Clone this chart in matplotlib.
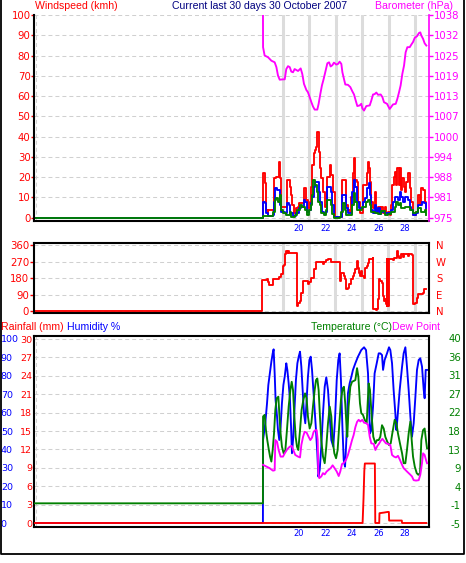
import matplotlib
matplotlib.use("Agg")
import matplotlib.pyplot as plt
from matplotlib.lines import Line2D

# ---------------- data (day of October, value) ----------------
gust = [(0.2, 0), (17.48, 0), (17.49, 21.9), (17.61, 21.9), (17.64, 16.9), (17.74, 3.8), (17.86, 1.6),
        (17.90, 3.8), (18.24, 3.8), (18.32, 19.4), (18.50, 20.2), (18.62, 20.2), (18.67, 27.6), (18.75, 20.2),
        (18.77, 19.4), (18.82, 5.4), (19.25, 5.4), (19.33, 18.6), (19.51, 18.6), (19.56, 15.3), (19.63, 11.2),
        (19.71, 6.3), (19.83, 2.1), (20.01, 4.6), (20.14, 5.4), (20.21, 7.1), (20.46, 7.1), (20.57, 14.5),
        (20.64, 14.5), (20.77, 8.7), (20.89, 4.6), (21.02, 7.9), (21.15, 15.3), (21.22, 26.0), (21.32, 31.7),
        (21.40, 33.4), (21.48, 35.0), (21.60, 42.4), (21.70, 32.6), (21.83, 24.3), (21.90, 19.4), (22.03, 12.8),
        (22.16, 5.4), (22.28, 6.3), (22.36, 20.2), (22.49, 20.2), (22.56, 26.0), (22.66, 21.0), (22.79, 12.8),
        (22.91, 0.5), (23.42, 0.5), (23.50, 18.6), (23.67, 18.6), (23.80, 6.3), (23.92, 3.8), (24.10, 3.0),
        (24.18, 10.4), (24.30, 21.9), (24.38, 29.3), (24.48, 18.6), (24.63, 17.8), (24.68, 7.9), (24.81, 2.1),
        (24.93, 2.1), (25.06, 16.1), (25.24, 16.1), (25.36, 21.9), (25.44, 27.6), (25.52, 24.3), (25.59, 17.8),
        (25.69, 7.9), (25.82, 4.6), (25.94, 12.8), (26.00, 12.8), (26.07, 2.1), (26.20, 5.4), (26.32, 2.1),
        (26.45, 5.4), (26.58, 2.1), (26.70, 5.4), (26.83, 2.1), (26.95, 3.0), (27.08, 1.3), (27.21, 6.3),
        (27.28, 16.1), (27.38, 20.2), (27.46, 22.7), (27.54, 16.1), (27.66, 24.3), (27.79, 16.1), (27.89, 24.3),
        (27.97, 13.7), (28.04, 19.4), (28.14, 15.3), (28.22, 12.8), (28.34, 17.8), (28.47, 21.9), (28.60, 14.5),
        (28.72, 7.9), (28.85, 1.3), (28.98, 1.3), (29.10, 3.0), (29.23, 11.2), (29.35, 6.3), (29.48, 14.5),
        (29.61, 13.7), (29.73, 7.9), (29.86, 3.8)]

wind_avg = [(0.2, 0), (17.48, 0), (17.49, 7.9), (17.61, 7.1), (17.74, 2.1), (17.86, 1.0), (18.24, 1.3),
            (18.32, 7.9), (18.42, 14.5), (18.57, 13.7), (18.67, 13.7), (18.77, 6.3), (18.87, 3.0), (19.13, 2.1),
            (19.33, 7.1), (19.45, 6.3), (19.56, 2.1), (19.76, 1.0), (20.01, 2.1), (20.21, 4.6), (20.39, 5.4),
            (20.57, 8.7), (20.69, 7.9), (20.82, 3.0), (20.97, 3.8), (21.10, 7.1), (21.22, 10.4), (21.32, 15.3),
            (21.45, 17.8), (21.60, 17.8), (21.70, 12.8), (21.83, 7.9), (21.95, 3.0), (22.08, 2.1), (22.23, 3.0),
            (22.36, 15.3), (22.49, 15.3), (22.61, 12.8), (22.71, 6.3), (22.86, 0.5), (23.29, 0.5), (23.50, 11.2),
            (23.67, 11.2), (23.80, 4.6), (23.92, 2.1), (24.10, 2.1), (24.25, 12.8), (24.38, 18.6), (24.48, 15.3),
            (24.61, 7.9), (24.73, 4.6), (24.93, 4.6), (25.06, 7.9), (25.24, 9.5), (25.36, 14.5), (25.49, 16.9),
            (25.59, 11.2), (25.69, 3.8), (25.82, 2.1), (25.94, 6.3), (26.07, 3.0), (26.20, 4.6), (26.32, 1.6),
            (26.45, 3.0), (26.70, 2.1), (26.95, 2.1), (27.21, 3.8), (27.33, 7.9), (27.46, 10.4), (27.59, 10.4),
            (27.71, 8.7), (27.84, 12.8), (27.97, 10.4), (28.09, 7.9), (28.22, 10.4), (28.34, 10.4), (28.47, 8.7),
            (28.60, 5.4), (28.72, 3.8), (28.85, 1.3), (29.10, 2.1), (29.23, 6.3), (29.40, 6.3), (29.53, 7.6),
            (29.66, 7.1), (29.81, 4.6)]

wind_low = [(0.2, 0), (17.48, 0), (17.49, 1.0), (17.74, 1.0), (18.24, 3.0), (18.37, 8.7), (18.50, 9.5),
            (18.62, 7.9), (18.75, 11.2), (18.87, 3.8), (19.00, 2.1), (19.25, 1.3), (19.51, 2.6), (19.63, 0.5),
            (19.88, 1.3), (20.09, 3.8), (20.26, 6.3), (20.44, 5.4), (20.64, 3.8), (20.82, 1.3), (20.97, 3.8),
            (21.10, 6.3), (21.20, 11.2), (21.30, 18.6), (21.45, 16.1), (21.55, 12.8), (21.65, 7.9), (21.78, 6.3),
            (21.90, 2.1), (22.08, 1.3), (22.23, 3.8), (22.36, 8.7), (22.49, 8.7), (22.61, 6.3), (22.74, 1.6),
            (22.86, 0), (23.29, 0.5), (23.42, 3.0), (23.55, 7.1), (23.67, 3.8), (23.80, 1.3), (24.05, 1.3),
            (24.23, 6.3), (24.35, 12.0), (24.48, 7.9), (24.61, 3.8), (24.81, 3.8), (24.99, 5.4), (25.19, 5.4),
            (25.31, 7.9), (25.44, 8.7), (25.57, 6.3), (25.69, 3.0), (25.94, 2.1), (26.20, 1.6), (26.45, 3.3),
            (26.70, 1.3), (26.95, 1.6), (27.21, 3.0), (27.46, 5.4), (27.59, 7.9), (27.71, 6.3), (27.84, 7.1),
            (27.97, 4.6), (28.22, 5.4), (28.47, 5.4), (28.60, 3.8), (28.85, 2.1), (29.10, 2.6), (29.23, 4.6),
            (29.48, 2.6), (29.73, 3.8), (29.86, 1.3)]

barometer = [(17.48, 1045), (17.49, 1028.0), (17.61, 1025.4), (17.86, 1024.9), (18.12, 1023.8), (18.37, 1023.3),
             (18.50, 1021.8), (18.62, 1019.2), (18.75, 1017.9), (19.00, 1018.0), (19.13, 1018.0), (19.25, 1021.2),
             (19.38, 1022.1), (19.51, 1021.8), (19.63, 1020.4), (19.76, 1020.2), (19.88, 1021.2), (20.14, 1020.6),
             (20.34, 1021.4), (20.46, 1019.7), (20.59, 1016.6), (20.77, 1014.7), (20.89, 1014.0), (21.02, 1012.5),
             (21.15, 1010.9), (21.27, 1009.6), (21.40, 1008.6), (21.60, 1008.6), (21.70, 1010.4), (21.83, 1013.5),
             (21.95, 1016.1), (22.08, 1018.1), (22.23, 1020.7), (22.36, 1023.0), (22.49, 1023.3), (22.61, 1022.0),
             (22.74, 1022.4), (22.86, 1023.2), (23.04, 1022.6), (23.17, 1022.8), (23.29, 1023.5), (23.42, 1022.8),
             (23.50, 1020.2), (23.62, 1018.1), (23.72, 1016.4), (23.92, 1016.3), (24.10, 1015.6), (24.25, 1014.3),
             (24.38, 1013.3), (24.51, 1011.4), (24.63, 1009.7), (24.81, 1009.9), (24.93, 1010.4), (25.01, 1009.0),
             (25.14, 1008.3), (25.31, 1009.7), (25.57, 1009.9), (25.69, 1011.4), (25.82, 1013.3), (25.94, 1013.4),
             (26.07, 1013.9), (26.20, 1013.2), (26.40, 1013.3), (26.53, 1012.5), (26.65, 1010.9), (26.88, 1010.4),
             (27.08, 1008.8), (27.21, 1009.5), (27.33, 1010.2), (27.54, 1010.4), (27.66, 1011.9), (27.79, 1014.0),
             (27.91, 1016.1), (28.04, 1019.7), (28.17, 1022.3), (28.29, 1026.4), (28.42, 1028.0), (28.60, 1028.0),
             (28.72, 1028.8), (28.85, 1029.6), (28.98, 1030.9), (29.15, 1031.4), (29.30, 1032.4), (29.40, 1032.6),
             (29.48, 1031.6), (29.61, 1030.6), (29.73, 1029.2), (29.86, 1028.5)]

direction = [(0.2, 0), (17.43, 0), (17.44, 169), (17.79, 173), (17.86, 158), (17.99, 140), (18.24, 140),
             (18.29, 176), (18.62, 173), (18.75, 187), (18.87, 204), (18.95, 204), (19.00, 245), (19.08, 249),
             (19.18, 309), (19.25, 327), (19.33, 318), (19.43, 327), (19.51, 318), (20.04, 318), (20.06, 45),
             (20.11, 27), (20.19, 45), (20.31, 55), (20.39, 100), (20.52, 164), (20.77, 164), (20.89, 145),
             (21.02, 158), (21.15, 182), (21.27, 182), (21.40, 227), (21.53, 267), (21.98, 267), (22.06, 255),
             (22.16, 267), (22.28, 276), (22.41, 282), (22.61, 282), (22.66, 267), (23.29, 267), (23.32, 164),
             (23.42, 209), (23.55, 209), (23.62, 191), (23.72, 173), (23.80, 118), (23.92, 127), (24.05, 145),
             (24.18, 173), (24.30, 191), (24.43, 209), (24.51, 227), (24.61, 273), (24.68, 236), (24.76, 209),
             (24.86, 191), (24.93, 218), (25.01, 191), (25.19, 182), (25.26, 236), (25.36, 245), (25.44, 264),
             (25.57, 282), (25.82, 291), (25.87, 9), (26.07, 5), (26.15, 9), (26.20, 64), (26.27, 173),
             (26.40, 164), (26.50, 155), (26.58, 82), (26.65, 55), (26.75, 64), (26.83, 36), (26.90, 27),
             (26.93, 282), (26.95, 27), (26.98, 282), (27.01, 27), (27.03, 282), (27.21, 282), (27.33, 278),
             (27.46, 291), (27.59, 291), (27.66, 327), (27.71, 300), (27.84, 291), (27.97, 309), (28.09, 296),
             (28.22, 309), (28.47, 300), (28.60, 309), (28.80, 304), (28.85, 45), (28.92, 36), (29.03, 45),
             (29.18, 73), (29.30, 91), (29.61, 96), (29.68, 100), (29.73, 122), (29.86, 122)]

humidity = [(0.2, 0), (17.48, 0), (17.49, 45.1), (17.66, 54.2), (17.79, 65.0), (17.89, 75.0), (18.02, 82.2),
            (18.12, 87.7), (18.22, 92.2), (18.29, 94.4), (18.37, 81.3), (18.44, 66.8), (18.55, 57.8), (18.62, 50.5),
            (18.72, 45.1), (18.82, 52.4), (18.92, 65.0), (19.03, 75.0), (19.13, 79.5), (19.25, 86.8), (19.33, 83.2),
            (19.43, 75.9), (19.53, 66.8), (19.61, 52.4), (19.68, 37.9), (19.78, 46.9), (19.88, 63.2), (19.98, 77.7),
            (20.09, 86.8), (20.19, 90.4), (20.29, 93.1), (20.39, 85.0), (20.49, 72.3), (20.59, 59.6), (20.69, 54.2),
            (20.79, 66.8), (20.89, 79.5), (21.00, 88.6), (21.10, 90.4), (21.20, 83.2), (21.30, 72.3), (21.40, 61.4),
            (21.50, 50.5), (21.60, 37.9), (21.68, 25.2), (21.78, 28.8), (21.90, 41.5), (22.03, 59.6), (22.16, 74.1),
            (22.28, 79.2), (22.41, 72.3), (22.54, 57.8), (22.66, 45.1), (22.81, 41.5), (22.94, 56.0), (23.07, 77.7),
            (23.19, 88.6), (23.29, 92.2), (23.39, 77.7), (23.50, 52.4), (23.60, 34.2), (23.70, 30.6), (23.80, 45.1),
            (23.92, 70.5), (24.05, 75.9), (24.18, 79.5), (24.30, 83.2), (24.48, 86.8), (24.68, 90.4), (24.93, 94.0),
            (25.14, 95.5), (25.29, 94.0), (25.44, 81.3), (25.52, 63.2), (25.59, 48.7), (25.69, 50.5), (25.82, 63.2),
            (25.94, 81.3), (26.10, 86.8), (26.25, 92.2), (26.37, 92.2), (26.50, 91.3), (26.58, 83.2), (26.70, 88.6),
            (26.88, 92.2), (27.03, 95.5), (27.13, 94.0), (27.26, 86.8), (27.38, 72.3), (27.51, 59.6), (27.59, 50.5),
            (27.66, 56.0), (27.84, 72.3), (28.02, 85.0), (28.14, 92.2), (28.27, 95.5), (28.39, 85.0), (28.52, 72.3),
            (28.65, 57.8), (28.77, 46.9), (28.90, 54.2), (29.03, 68.7), (29.15, 83.2), (29.28, 88.6), (29.40, 89.5),
            (29.53, 85.0), (29.66, 72.3), (29.73, 67.8), (29.81, 83.2), (29.91, 83.2)]

temperature = [(0.2, 0), (17.48, 0), (17.49, 21.0), (17.61, 21.4), (17.71, 17.7), (17.81, 15.3), (17.91, 13.3),
               (18.02, 11.3), (18.12, 10.1), (18.22, 12.9), (18.32, 16.9), (18.42, 22.6), (18.52, 25.4),
               (18.65, 25.8), (18.72, 21.8), (18.82, 16.9), (18.92, 13.7), (19.05, 12.1), (19.18, 12.9),
               (19.30, 17.7), (19.43, 23.4), (19.56, 27.4), (19.66, 29.4), (19.76, 27.4), (19.86, 21.0),
               (19.96, 16.1), (20.06, 13.7), (20.16, 12.9), (20.29, 17.7), (20.41, 22.6), (20.54, 25.0),
               (20.67, 26.6), (20.79, 25.4), (20.89, 21.0), (21.02, 18.1), (21.15, 19.4), (21.27, 23.4),
               (21.40, 27.4), (21.50, 29.8), (21.60, 30.2), (21.70, 27.4), (21.80, 21.0), (21.90, 15.3),
               (22.03, 11.3), (22.16, 9.7), (22.28, 13.7), (22.41, 19.4), (22.54, 23.4), (22.66, 21.0),
               (22.76, 15.3), (22.89, 12.1), (23.02, 10.9), (23.14, 12.9), (23.27, 19.4), (23.39, 25.0),
               (23.52, 27.8), (23.62, 28.2), (23.72, 23.9), (23.80, 19.4), (23.87, 16.1), (23.97, 23.4),
               (24.10, 28.2), (24.23, 29.4), (24.48, 29.8), (24.61, 32.7), (24.71, 30.6), (24.83, 24.2),
               (24.93, 21.8), (25.06, 21.4), (25.19, 20.2), (25.34, 19.4), (25.49, 29.0), (25.59, 27.4),
               (25.72, 21.0), (25.84, 16.1), (26.00, 14.5), (26.12, 15.3), (26.25, 15.3), (26.37, 16.1),
               (26.50, 18.9), (26.63, 18.1), (26.75, 16.1), (26.90, 14.9), (27.03, 14.1), (27.16, 14.5),
               (27.28, 16.9), (27.46, 20.2), (27.59, 19.4), (27.71, 16.9), (27.86, 14.5), (28.02, 12.1),
               (28.14, 9.7), (28.27, 9.7), (28.39, 12.9), (28.52, 16.9), (28.65, 19.8), (28.75, 15.3),
               (28.85, 11.3), (28.98, 8.9), (29.13, 7.3), (29.25, 6.9), (29.38, 7.3), (29.48, 15.3),
               (29.61, 17.7), (29.73, 18.1), (29.83, 15.3), (29.91, 13.3)]

dew_point = [(17.49, 9.3), (17.74, 8.9), (17.99, 8.5), (18.24, 7.9), (18.37, 8.0), (18.42, 15.3), (18.55, 14.9),
             (18.67, 12.9), (18.82, 11.3), (19.00, 11.3), (19.13, 12.1), (19.33, 13.1), (19.51, 13.7),
             (19.66, 13.9), (19.78, 12.9), (19.93, 11.7), (20.14, 11.3), (20.29, 11.1), (20.39, 14.1),
             (20.52, 16.1), (20.64, 17.3), (20.79, 17.1), (20.94, 16.1), (21.07, 15.3), (21.20, 15.9),
             (21.32, 17.3), (21.45, 17.7), (21.55, 17.7), (21.63, 15.3), (21.68, 7.3), (21.75, 6.1), (21.90, 6.5),
             (22.03, 7.3), (22.16, 7.0), (22.31, 7.7), (22.46, 8.1), (22.61, 8.5), (22.76, 9.2), (22.91, 8.5),
             (23.07, 7.7), (23.22, 6.6), (23.34, 7.7), (23.47, 9.5), (23.62, 9.8), (23.77, 10.5), (23.92, 11.7),
             (24.08, 13.5), (24.23, 15.3), (24.35, 16.5), (24.48, 18.4), (24.61, 19.7), (24.73, 20.2),
             (24.86, 19.8), (25.01, 20.2), (25.14, 19.5), (25.29, 19.4), (25.44, 19.0), (25.57, 16.1),
             (25.69, 14.5), (25.87, 14.4), (26.00, 12.9), (26.15, 13.9), (26.27, 14.4), (26.40, 15.1),
             (26.53, 15.6), (26.65, 15.1), (26.80, 14.5), (26.95, 14.4), (27.13, 14.1), (27.26, 11.7),
             (27.41, 11.3), (27.56, 11.1), (27.71, 11.5), (27.86, 10.5), (28.02, 9.3), (28.14, 8.5), (28.27, 8.1),
             (28.39, 7.7), (28.52, 7.3), (28.65, 6.9), (28.77, 6.5), (28.90, 5.6), (29.08, 5.5), (29.28, 5.6),
             (29.40, 6.9), (29.53, 9.7), (29.61, 12.1), (29.73, 11.7), (29.83, 10.5), (29.91, 9.7)]

rainfall = [(0.2, 0), (25.03, 0), (25.10, 4.0), (25.16, 8.5), (25.20, 9.7), (25.96, 9.7), (25.99, 0),
            (26.29, 0), (26.31, 1.6), (26.65, 1.7), (26.92, 1.8), (27.02, 1.8), (27.04, 0.4), (28.00, 0.4),
            (28.02, 0), (29.86, 0)]

day_marks = [19, 21, 23, 25, 27, 29]
label_days = [20, 22, 24, 26, 28]
wind_ticks = list(range(0, 101, 10))
baro_labels = ['975', '981', '988', '994', '1000', '1007', '1013', '1019', '1025', '1032', '1038']
dir_ticks = [0, 90, 180, 270, 360]
dir_letters = ['N', 'E', 'S', 'W', 'N']
hum_ticks = list(range(0, 101, 10))
rain_ticks = list(range(0, 31, 3))
temp_labels = ['-5', '-1', '4', '9', '13', '18', '22', '27', '31', '36', '40']

RED, BLUE, GREEN, MAG = '#ff0000', '#0000ff', '#008000', '#ff00ff'
GRID = '#d0d0d0'
W_PX, H_PX = 466, 563
XLIM = (0.14, 30.06)
TICK_SIZE = 7.3

fig = plt.figure(figsize=(W_PX / 100, H_PX / 100), dpi=100)
plt.rcParams['font.family'] = 'DejaVu Sans'


def box(x0, y0, x1, y1):
    return fig.add_axes([x0 / W_PX, 1 - y1 / H_PX, (x1 - x0) / W_PX, (y1 - y0) / H_PX])


def ptext(x, y, s, **kw):
    fig.text(x / W_PX, 1 - y / H_PX, s, va='center', family='Liberation Sans', size=7.6, **kw)


def draw(ax, series, color, steps=False):
    t, v = zip(*series)
    ax.plot(t, v, color=color, lw=1.35, drawstyle='steps-post' if steps else 'default')


def hide_spines(ax):
    for s in ax.spines.values():
        s.set_visible(False)


def hgrid(ax, ticks):
    for v in ticks:
        ax.axhline(v, color=GRID, lw=0.75, dashes=(3.8, 2.9), zorder=0.5)


# ---------------- top panel: wind + barometer ----------------
ax1 = box(34, 15, 429, 221)
ax1.set_xlim(*XLIM)
ax1.set_ylim(-1.63, 100)
hgrid(ax1, wind_ticks)
ax1.axvline(XLIM[0] + 0.15, color=GRID, lw=0.75, dashes=(3.8, 2.9))
for d in day_marks:
    ax1.axvline(d, color='#dcdcdc', lw=2.2, zorder=0.6)
draw(ax1, gust, RED, steps=True)
draw(ax1, wind_avg, BLUE, steps=True)
draw(ax1, wind_low, GREEN, steps=True)
ax1.set_yticks(wind_ticks)
ax1.tick_params(axis='y', colors=RED, length=2, width=1, pad=0.5, labelsize=TICK_SIZE)
ax1.set_xticks([d + 0.22 for d in label_days], [str(d) for d in label_days])
ax1.tick_params(axis='x', length=0, pad=2.5, labelcolor=BLUE, labelsize=6)
ax1.spines['top'].set_visible(False)
ax1.spines['right'].set_visible(False)
ax1.spines['left'].set_linewidth(1.5)
ax1.spines['bottom'].set_linewidth(1.5)

axp = ax1.twinx()
axp.set_ylim(973.98, 1038)
draw(axp, barometer, MAG)
axp.set_yticks([975 + 6.3 * k for k in range(11)], baro_labels)
axp.tick_params(axis='y', colors=MAG, length=3, width=1, pad=0.5, labelsize=TICK_SIZE)
hide_spines(axp)
axp.spines['right'].set_visible(True)
axp.spines['right'].set_color(MAG)
axp.spines['right'].set_linewidth(1.2)

# ---------------- middle panel: wind direction ----------------
ax2 = box(34, 243.3, 428.5, 313.3)
ax2.set_xlim(*XLIM)
ax2.set_ylim(-12.5, 369.3)
hgrid(ax2, dir_ticks)
for d in day_marks:
    ax2.axvline(d, color='#dcdcdc', lw=2.2, zorder=0.6)
draw(ax2, direction, RED, steps=True)
ax2.set_xticks([])
ax2.set_yticks(dir_ticks)
ax2.tick_params(axis='y', colors=RED, length=3, width=1, pad=0.5, labelsize=TICK_SIZE)
for s in ax2.spines.values():
    s.set_linewidth(1.5)

axd = ax2.twinx()
axd.set_ylim(-12.5, 369.3)
axd.set_yticks(dir_ticks, dir_letters)
axd.tick_params(axis='y', colors=RED, length=0, pad=5.5, labelsize=TICK_SIZE)
hide_spines(axd)

# ---------------- bottom panel: humidity, temperature, rain ----------------
ax3 = box(34, 336, 429, 527)
ax3.set_xlim(*XLIM)
ax3.set_ylim(-2.17, 101.63)
hgrid(ax3, hum_ticks)
ax3.axvline(XLIM[0] + 0.15, color=GRID, lw=0.75, dashes=(3.8, 2.9))
draw(ax3, humidity, BLUE)
ax3.set_yticks(hum_ticks, [str(v) for v in hum_ticks], ha='left')
ax3.tick_params(axis='y', colors=BLUE, length=0, pad=23.9, labelsize=6.8)
ax3.set_xticks([d + 0.22 for d in label_days], [str(d) for d in label_days])
ax3.tick_params(axis='x', length=0, pad=1.5, labelcolor=BLUE, labelsize=6)
for s in ax3.spines.values():
    s.set_linewidth(1.5)

axt = ax3.twinx()
axt.set_ylim(-5.73, 40.48)
draw(axt, temperature, GREEN)
draw(axt, dew_point, MAG)
axt.set_yticks([-5 + 4.5 * k for k in range(11)], temp_labels, ha='right')
axt.tick_params(axis='y', colors=GREEN, length=0, pad=23, labelsize=TICK_SIZE)
hide_spines(axt)

axr = ax3.twinx()
axr.set_ylim(-0.652, 30.49)
draw(axr, rainfall, RED)
axr.yaxis.tick_left()
axr.set_yticks(rain_ticks)
axr.tick_params(axis='y', colors=RED, length=0, pad=1.2, labelsize=6.8)
hide_spines(axr)

# ---------------- captions ----------------
ptext(35, 6.2, 'Windspeed (kmh)', color=RED)
ptext(259.5, 6.2, 'Current last 30 days 30 October 2007', color='#000080', ha='center')
ptext(414, 6.2, 'Barometer (hPa)', color=MAG, ha='center')
ptext(1, 326.5, 'Rainfall (mm)', color=RED)
ptext(67, 326.5, 'Humidity %', color=BLUE)
ptext(391.7, 326.5, 'Temperature (\u00b0C)', color=GREEN, ha='right')
ptext(391.7, 326.5, 'Dew Point', color=MAG)

# outer frame
fig.add_artist(Line2D([0.5 / W_PX, 0.5 / W_PX, 463.5 / W_PX, 463.5 / W_PX],
                      [1, 1 - 554 / H_PX, 1 - 554 / H_PX, 1],
                      transform=fig.transFigure, color='black', lw=1.3))

fig.savefig('out.png', dpi=100)
